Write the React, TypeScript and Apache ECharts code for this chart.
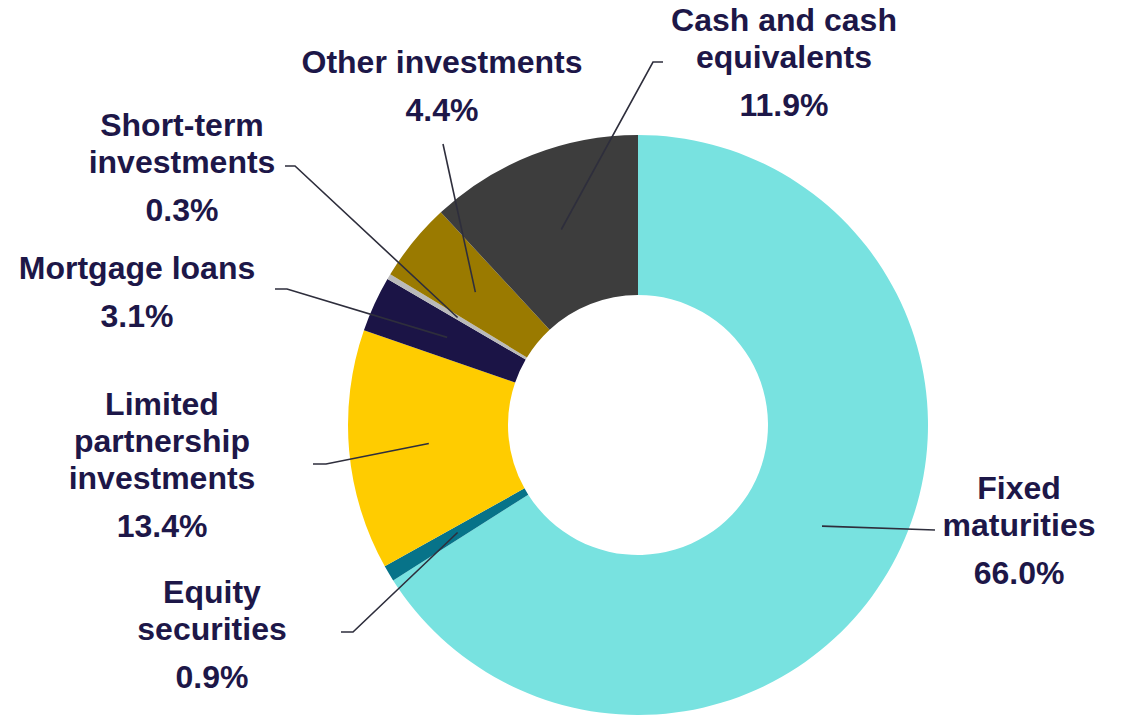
import React, { useEffect, useRef } from "react";
import * as echarts from "echarts";

// ---- data ----
const categories = [
  "Fixed\nmaturities",
  "Equity\nsecurities",
  "Limited\npartnership\ninvestments",
  "Mortgage loans",
  "Short-term\ninvestments",
  "Other investments",
  "Cash and cash\nequivalents",
];
const shares = [66.0, 0.9, 13.4, 3.1, 0.3, 4.4, 11.9];
const sliceColors = ["#78E2E0", "#077389", "#FFCC00", "#1B1446", "#BABABA", "#9A7A00", "#3D3D3D"];

// ---- layout (label placement, not data) ----
const CX = 638;
const CY = 425;
const INNER_R = 130;
const OUTER_R = 290;
const LINE_R = 210;
const labelAnchors: { x: number; y: number; line: number[][] }[] = [
  { x: 1019, y: 469, line: [[935, 530]] },
  { x: 212, y: 573.5, line: [[353, 632], [341, 632]] },
  { x: 162, y: 385.5, line: [[326, 464], [313, 464]] },
  { x: 137, y: 249.5, line: [[287, 289], [275, 289]] },
  { x: 182, y: 106.5, line: [[295, 166], [285, 166]] },
  { x: 442, y: 43, line: [[443, 144]] },
  { x: 784, y: 1.5, line: [[653, 62], [663, 62]] },
];

const TEXT_COLOR = "#1D1748";
const FONT = "'Liberation Sans', Arial, sans-serif";

export default function App() {
  const ref = useRef<HTMLDivElement>(null);
  useEffect(() => {
    if (!ref.current) return;
    const chart = echarts.init(ref.current, undefined, { renderer: "svg" });
    const total = shares.reduce((a, b) => a + b, 0);
    const midPoint = (i: number) => {
      let cum = 0;
      for (let k = 0; k < i; k++) cum += shares[k];
      const frac = (cum + shares[i] / 2) / total;
      const ang = Math.PI / 2 - frac * Math.PI * 2;
      return [CX + LINE_R * Math.cos(ang), CY - LINE_R * Math.sin(ang)];
    };
    const common = {
      type: "pie",
      center: [CX, CY],
      startAngle: 90,
      clockwise: true,
      avoidLabelOverlap: false,
      silent: true,
      emphasis: { disabled: true },
    };
    chart.setOption({
      animation: false,
      backgroundColor: "#ffffff",
      series: [
        {
          ...common,
          z: 2,
          radius: [INNER_R, OUTER_R],
          itemStyle: { borderWidth: 0 },
          label: { show: false },
          labelLine: { show: false },
          data: categories.map((name, i) => ({
            name,
            value: shares[i],
            itemStyle: { color: sliceColors[i] },
          })),
        },
        {
          ...common,
          z: 5,
          radius: [INNER_R, LINE_R],
          itemStyle: { borderWidth: 0, color: "rgba(0,0,0,0)" },
          label: {
            show: true,
            position: "outside",
            fontFamily: FONT,
            fontWeight: "bold",
            fontSize: 32,
            color: TEXT_COLOR,
            formatter: (p: any) => `{n|${p.name}}\n{p|${Number(p.value).toFixed(1)}%}`,
            rich: {
              n: { fontFamily: FONT, fontWeight: "bold", fontSize: 32, color: TEXT_COLOR, lineHeight: 37 },
              p: { fontFamily: FONT, fontWeight: "bold", fontSize: 32, color: TEXT_COLOR, lineHeight: 59 },
            },
          },
          labelLine: {
            show: true,
            showAbove: true,
            length: 10,
            length2: 10,
            lineStyle: { color: "#2E2E3C", width: 1.6 },
          },
          labelLayout: (params: any) => {
            const i = params.dataIndex;
            const a = labelAnchors[i];
            const pts = params.labelLinePoints;
            const start = pts && pts.length ? pts[0] : midPoint(i);
            return {
              x: a.x,
              y: a.y,
              align: "center",
              verticalAlign: "top",
              labelLinePoints: [start, ...a.line],
            };
          },
          data: categories.map((name, i) => ({ name, value: shares[i] })),
        },
      ],
    });
    return () => chart.dispose();
  }, []);
  return (
    <div
      ref={ref}
      style={{ position: "absolute", left: 0, top: 0, width: 1122, height: 715 }}
    />
  );
}
